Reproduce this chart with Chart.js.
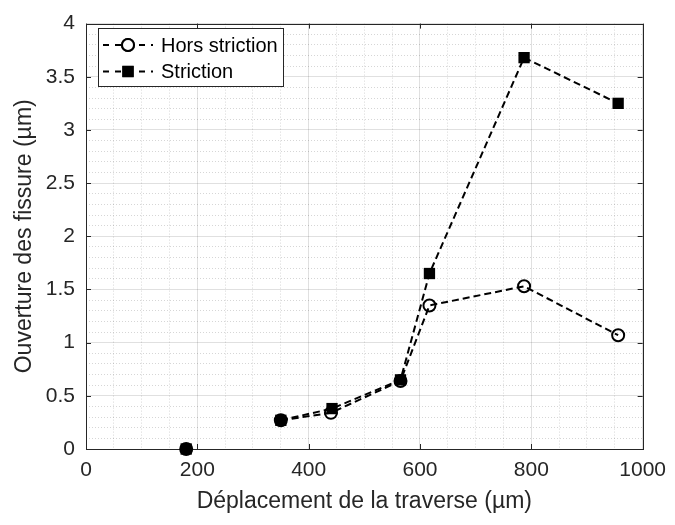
<!DOCTYPE html>
<html>
<head>
<meta charset="utf-8">
<script src="https://cdn.jsdelivr.net/npm/chart.js@4"></script>
<style>
  html, body { margin: 0; padding: 0; background: #fff; }
  #wrap { width: 675px; height: 525px; }
</style>
</head>
<body>
<div id="wrap"><canvas id="chart" width="675" height="525"></canvas></div>
<script>
// valeurs
var horsX = [180, 350, 440, 565, 617, 787, 956];
var horsY = [0, 0.27, 0.34, 0.64, 1.35, 1.53, 1.07];
var strX = [180, 350, 442, 565, 617, 787, 956];
var strY = [0, 0.27, 0.38, 0.65, 1.65, 3.68, 3.25];
var seriesNames = ['Hors striction', 'Striction'];
var xTicks = [0, 200, 400, 600, 800, 1000];
var yTicks = [0, 0.5, 1, 1.5, 2, 2.5, 3, 3.5, 4];

var txtColor = '#262626';
var fontFam = '"Liberation Sans", Arial, Helvetica, sans-serif';

function toPoints(xs, ys) {
    return xs.map(function (x, i) { return { x: x, y: ys[i] }; });
}
function isMajor(v, list) {
    return list.some(function (t) { return Math.abs(t - v) < 1e-6; });
}

// pas de trait entre le premier point et le second
var gapSegment = {
    borderColor: function (ctx) { return ctx.p0DataIndex === 0 ? 'rgba(0,0,0,0)' : undefined; }
};

var data = {
    datasets: [{
        label: seriesNames[0],
        data: toPoints(horsX, horsY),
        borderColor: '#000',
        borderWidth: 2,
        borderDash: [7, 4],
        pointStyle: 'circle',
        pointRadius: 6,
        pointBorderWidth: 2,
        pointBorderColor: '#000',
        pointBackgroundColor: 'rgba(0,0,0,0)',
        segment: gapSegment,
        clip: false,
        fill: false,
        tension: 0
    },
    {
        label: seriesNames[1],
        data: toPoints(strX, strY),
        borderColor: '#000',
        borderWidth: 2,
        borderDash: [7, 4],
        pointStyle: 'rect',
        pointRadius: 8,
        pointBorderWidth: 0,
        pointBackgroundColor: '#000',
        segment: gapSegment,
        clip: false,
        fill: false,
        tension: 0
    }]
};

// cadre + graduations vers l'intérieur
var framePlugin = {
    id: 'frame',
    beforeDatasetsDraw: function (chart) {
        var c = chart.ctx, a = chart.chartArea;
        var xs = chart.scales.x, ys = chart.scales.y;
        c.save();
        c.strokeStyle = txtColor;
        c.lineWidth = 1;
        c.setLineDash([]);
        c.beginPath();
        xTicks.forEach(function (v) {
            var px = Math.round(xs.getPixelForValue(v)) + 0.5;
            c.moveTo(px, a.bottom); c.lineTo(px, a.bottom - 5);
            c.moveTo(px, a.top); c.lineTo(px, a.top + 5);
        });
        yTicks.forEach(function (v) {
            var py = Math.round(ys.getPixelForValue(v)) + 0.5;
            c.moveTo(a.left, py); c.lineTo(a.left + 5, py);
            c.moveTo(a.right, py); c.lineTo(a.right - 5, py);
        });
        c.stroke();
        c.strokeRect(Math.round(a.left) + 0.5, Math.round(a.top) + 0.5,
            Math.round(a.right - a.left), Math.round(a.bottom - a.top));
        c.restore();
    }
};

// légende dans le coin haut gauche
var legendPlugin = {
    id: 'boxLegend',
    afterDatasetsDraw: function (chart) {
        var c = chart.ctx;
        var bx = 98.5, by = 28.5, bw = 185, bh = 58;
        c.save();
        c.fillStyle = '#fff';
        c.fillRect(bx, by, bw, bh);
        c.strokeStyle = txtColor;
        c.lineWidth = 1;
        c.strokeRect(bx, by, bw, bh);
        chart.data.datasets.forEach(function (ds, i) {
            var yy = 45 + i * 26.5;
            c.strokeStyle = '#000';
            c.lineWidth = 2;
            c.setLineDash([6, 6]);
            c.beginPath();
            c.moveTo(103, yy);
            c.lineTo(153, yy);
            c.stroke();
            c.setLineDash([]);
            Chart.helpers.drawPoint(c, {
                pointStyle: ds.pointStyle,
                radius: ds.pointRadius,
                borderWidth: ds.pointBorderWidth
            }, 128, yy);
            if (ds.pointStyle === 'rect') {
                c.fillStyle = '#000';
                c.fill();
            } else {
                c.fillStyle = '#fff';
                c.fill();
                c.lineWidth = 2;
                c.stroke();
            }
            c.fillStyle = '#000';
            c.font = '20px ' + fontFam;
            c.textBaseline = 'middle';
            c.textAlign = 'left';
            c.fillText(ds.label, 161, yy + 1);
        });
        c.restore();
    }
};

function gridColor(list) {
    return function (ctx) {
        if (!ctx.tick) return 'rgba(0,0,0,0)';
        return isMajor(ctx.tick.value, list) ? 'rgba(0,0,0,0.12)' : 'rgba(0,0,0,0.16)';
    };
}
function gridDash(list) {
    return function (ctx) {
        if (!ctx.tick) return [];
        return isMajor(ctx.tick.value, list) ? [] : [1, 2];
    };
}

var options = {
    responsive: false,
    animation: false,
    layout: { padding: { top: 15, right: 27, left: 0, bottom: 0 } },
    scales: {
        x: {
            type: 'linear',
            min: 0,
            max: 1000,
            afterFit: function (s) { s.height = 76; },
            ticks: {
                stepSize: 50,
                autoSkip: false,
                maxTicksLimit: 100,
                maxRotation: 0,
                padding: 9,
                color: txtColor,
                font: { family: fontFam, size: 21 },
                callback: function (v) { return isMajor(v, xTicks) ? String(v) : ''; }
            },
            grid: { color: gridColor(xTicks), drawTicks: false, lineWidth: 1 },
            border: { display: false, dash: gridDash(xTicks) },
            title: {
                display: true,
                text: 'Déplacement de la traverse (µm)',
                color: txtColor,
                font: { family: fontFam, size: 23 },
                padding: { top: 0, bottom: 10 }
            }
        },
        y: {
            min: 0,
            max: 4,
            afterFit: function (s) { s.width = 86; },
            ticks: {
                stepSize: 0.1,
                autoSkip: false,
                maxTicksLimit: 100,
                padding: 11,
                color: txtColor,
                font: { family: fontFam, size: 21 },
                callback: function (v) { return isMajor(v, yTicks) ? String(Math.round(v * 10) / 10) : ''; }
            },
            grid: { color: gridColor(yTicks), drawTicks: false, lineWidth: 1 },
            border: { display: false, dash: gridDash(yTicks) },
            title: {
                display: true,
                text: 'Ouverture des fissure (µm)',
                color: txtColor,
                font: { family: fontFam, size: 23 },
                padding: { top: 11, bottom: 0 }
            }
        }
    },
    plugins: {
        legend: { display: false },
        tooltip: { enabled: false }
    }
};

var ctx = document.getElementById('chart').getContext('2d');
var chart = new Chart(ctx, {
    type: 'line',
    data: data,
    options: options,
    plugins: [framePlugin, legendPlugin]
});
</script>
</body>
</html>
